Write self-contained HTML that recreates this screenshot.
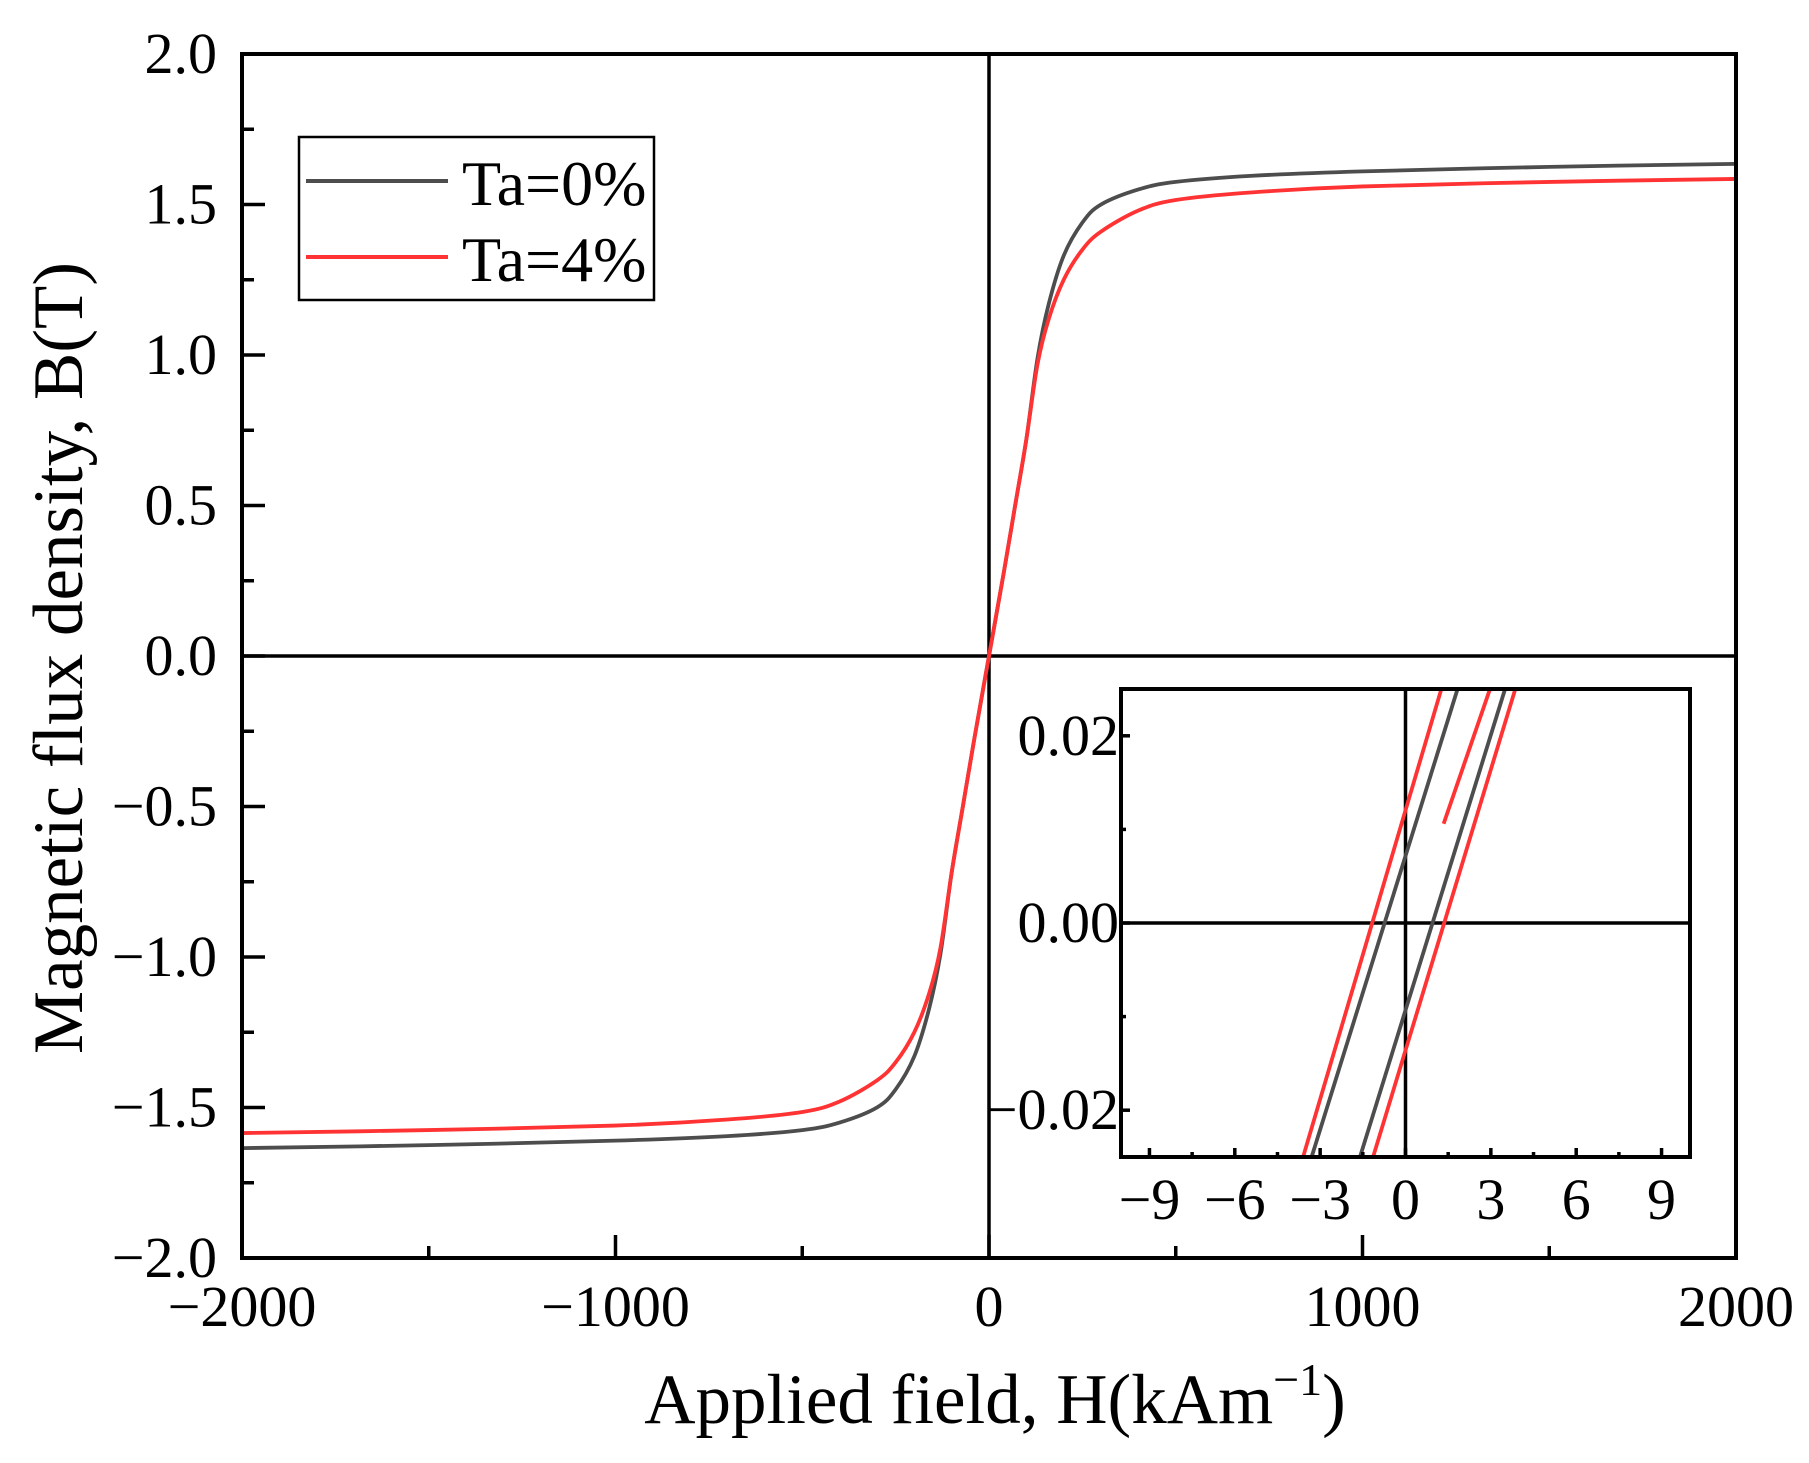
<!DOCTYPE html>
<html><head><meta charset="utf-8"><style>
html,body{margin:0;padding:0;background:#fff;}
svg{display:block;font-family:"Liberation Serif",serif;}
</style></head><body>
<svg id="chart" width="1809" height="1463" viewBox="0 0 1809 1463" xmlns="http://www.w3.org/2000/svg">
<g id="main"></g>
<g id="inset"></g>
<text x="0" y="0" transform="translate(82,658) rotate(-90)" text-anchor="middle" font-size="71">Magnetic flux density, B(T)</text>
<text x="995" y="1423" text-anchor="middle" font-size="71">Applied field, H(kAm<tspan dy="-28" font-size="46">−1</tspan><tspan dy="28">)</tspan></text>
<g>
<rect x="299" y="137" width="355" height="163" fill="#fff" stroke="#000" stroke-width="2.5"/>
<line x1="306" y1="181" x2="448" y2="181" stroke="#4d4d4d" stroke-width="4"/>
<text x="462" y="205" font-size="64">Ta=0%</text>
<line x1="306" y1="257" x2="448" y2="257" stroke="#ff3333" stroke-width="4"/>
<text x="462" y="281" font-size="64">Ta=4%</text>
</g>
</svg>
<script>
const hPos = [0,40,70,100,130,160,200,250,300,400,500,700,1000,1500,2000];
const bTa0 = [0,0.28,0.5,0.72,0.99,1.17,1.33,1.44,1.5,1.55,1.575,1.595,1.61,1.625,1.635];
const bTa4 = [0,0.28,0.5,0.72,0.97,1.12,1.25,1.35,1.41,1.48,1.515,1.54,1.56,1.575,1.585];
const xTicks = [-2000,-1000,0,1000,2000];
const xMinor = [-1500,-500,500,1500];
const yTicks = [-2,-1.5,-1,-0.5,0,0.5,1,1.5,2];
const yMinor = [-1.75,-1.25,-0.75,-0.25,0.25,0.75,1.25,1.75];
const yTickLabels = ["−2.0","−1.5","−1.0","−0.5","0.0","0.5","1.0","1.5","2.0"];
const xTickLabels = ["−2000","−1000","0","1000","2000"];
// inset: straight branches as [x at B=-0.025, x at B=0.025]
const insetTa0Left = [-3.3,1.83];
const insetTa0Right = [-1.6,3.5];
const insetTa4Left = [-3.6,1.26];
const insetTa4Right = [-1.14,3.86];
const insetTa4Seg = [1.34,0.0106,2.97,0.025];
const insetXTicks = [-9,-6,-3,0,3,6,9];
const insetXLabels = ["−9","−6","−3","0","3","6","9"];
const insetXMinor = [-7.5,-4.5,-1.5,1.5,4.5,7.5];
const insetYTicks = [-0.02,0,0.02];
const insetYLabels = ["−0.02","0.00","0.02"];
const insetYMinor = [-0.01,0.01];

const NS="http://www.w3.org/2000/svg";
function mk(parent,tag,attrs){const e=document.createElementNS(NS,tag);for(const k in attrs)e.setAttribute(k,attrs[k]);parent.appendChild(e);return e;}

const P={l:242,r:1736,t:54,b:1258};
const sx=v=>P.l+(v+2000)/4000*(P.r-P.l);
const sy=v=>P.b-(v+2)/4*(P.b-P.t);
const main=document.getElementById('main');

function curve(vals,color,name){
  const pts=[];
  for(let i=hPos.length-1;i>0;i--)pts.push([-hPos[i],-vals[i]]);
  for(let i=0;i<hPos.length;i++)pts.push([hPos[i],vals[i]]);
  let d="M"+sx(pts[0][0])+","+sy(pts[0][1]);
  for(let i=0;i<pts.length-1;i++){
    const p0=pts[Math.max(0,i-1)],p1=pts[i],p2=pts[i+1],p3=pts[Math.min(pts.length-1,i+2)];
    const X=a=>sx(a[0]),Y=a=>sy(a[1]);
    const c1x=X(p1)+(X(p2)-X(p0))/6,c1y=Y(p1)+(Y(p2)-Y(p0))/6;
    const c2x=X(p2)-(X(p3)-X(p1))/6,c2y=Y(p2)-(Y(p3)-Y(p1))/6;
    d+=" C"+c1x+","+c1y+" "+c2x+","+c2y+" "+X(p2)+","+Y(p2);
  }
  const el=mk(main,'path',{d:d,fill:'none',stroke:color,'stroke-width':3.8});
  
  
}
let z=mk(main,'line',{x1:sx(0),x2:sx(0),y1:P.t,y2:P.b,stroke:'#000','stroke-width':3.5});


z=mk(main,'line',{x1:P.l,x2:P.r,y1:sy(0),y2:sy(0),stroke:'#000','stroke-width':3.5});


curve(bTa0,'#4d4d4d','curve-ta0');
curve(bTa4,'#ff3333','curve-ta4');
let fr=mk(main,'rect',{x:P.l,y:P.t,width:P.r-P.l,height:P.b-P.t,fill:'none',stroke:'#000','stroke-width':4});


xTicks.forEach((v,i)=>{
  const t=mk(main,'line',{x1:sx(v),x2:sx(v),y1:P.b,y2:P.b-23,stroke:'#000','stroke-width':3.5});
  
  
  const l=mk(main,'text',{x:sx(v),y:P.b+68,'text-anchor':'middle','font-size':58});
  l.textContent=xTickLabels[i];
  
  
});
xMinor.forEach(v=>{
  const t=mk(main,'line',{x1:sx(v),x2:sx(v),y1:P.b,y2:P.b-12,stroke:'#000','stroke-width':3.5});
  
  
});
yTicks.forEach((v,i)=>{
  const t=mk(main,'line',{x1:P.l,x2:P.l+23,y1:sy(v),y2:sy(v),stroke:'#000','stroke-width':3.5});
  
  
  const l=mk(main,'text',{x:P.l-25,y:sy(v)+19,'text-anchor':'end','font-size':58});
  l.textContent=yTickLabels[i];
  
  
});
yMinor.forEach(v=>{
  const t=mk(main,'line',{x1:P.l,x2:P.l+12,y1:sy(v),y2:sy(v),stroke:'#000','stroke-width':3.5});
  
  
});

const I={l:1121,r:1690,t:689,b:1157};
const ix=v=>I.l+(v+10)/20*(I.r-I.l);
const iy=v=>I.b-(v+0.025)/0.05*(I.b-I.t);
const inset=document.getElementById('inset');
let bg=mk(inset,'rect',{x:I.l,y:I.t,width:I.r-I.l,height:I.b-I.t,fill:'#fff'});


z=mk(inset,'line',{x1:ix(0),x2:ix(0),y1:I.t,y2:I.b,stroke:'#000','stroke-width':3.5});


z=mk(inset,'line',{x1:I.l,x2:I.r,y1:iy(0),y2:iy(0),stroke:'#000','stroke-width':3.5});


function seg(a,color,name){
  const e=mk(inset,'line',{x1:ix(a[0]),y1:iy(-0.025),x2:ix(a[1]),y2:iy(0.025),stroke:color,'stroke-width':3.8});
  
  
}
seg(insetTa4Left,'#ff3333','inset-ta4-left');
seg(insetTa0Left,'#4d4d4d','inset-ta0-left');
seg(insetTa0Right,'#4d4d4d','inset-ta0-right');
seg(insetTa4Right,'#ff3333','inset-ta4-right');
let s=mk(inset,'line',{x1:ix(insetTa4Seg[0]),y1:iy(insetTa4Seg[1]),x2:ix(insetTa4Seg[2]),y2:iy(insetTa4Seg[3]),stroke:'#ff3333','stroke-width':3.8});


fr=mk(inset,'rect',{x:I.l,y:I.t,width:I.r-I.l,height:I.b-I.t,fill:'none',stroke:'#000','stroke-width':4});


insetXTicks.forEach((v,i)=>{
  const t=mk(inset,'line',{x1:ix(v),x2:ix(v),y1:I.b,y2:I.b-9,stroke:'#000','stroke-width':3.5});
  
  
  const l=mk(inset,'text',{x:ix(v),y:I.b+62,'text-anchor':'middle','font-size':58});
  l.textContent=insetXLabels[i];
  
  
});
insetXMinor.forEach(v=>{
  const t=mk(inset,'line',{x1:ix(v),x2:ix(v),y1:I.b,y2:I.b-5,stroke:'#000','stroke-width':3.5});
  
  
});
insetYTicks.forEach((v,i)=>{
  const t=mk(inset,'line',{x1:I.l,x2:I.l+9,y1:iy(v),y2:iy(v),stroke:'#000','stroke-width':3.5});
  
  
  const l=mk(inset,'text',{x:I.l-2,y:iy(v)+19,'text-anchor':'end','font-size':58});
  l.textContent=insetYLabels[i];
  
  
});
insetYMinor.forEach(v=>{
  const t=mk(inset,'line',{x1:I.l,x2:I.l+5,y1:iy(v),y2:iy(v),stroke:'#000','stroke-width':3.5});
  
  
});
</script>
</body></html>
